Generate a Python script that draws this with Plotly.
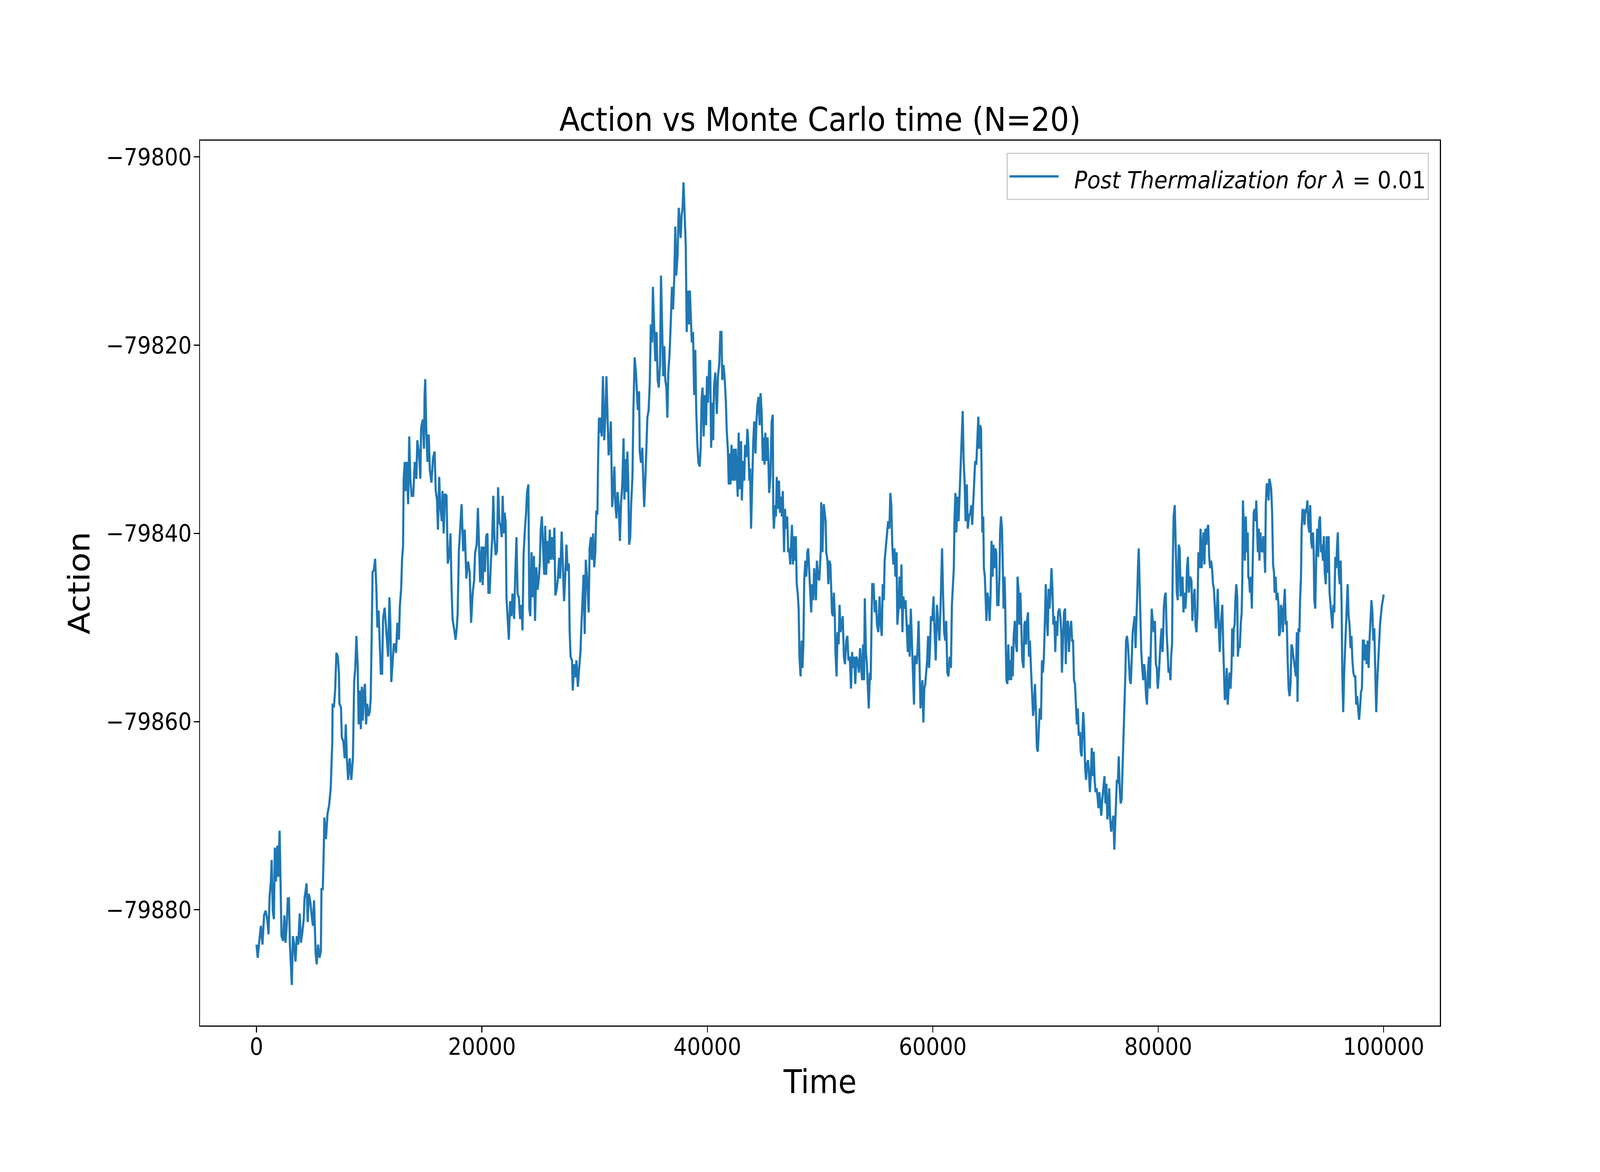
import plotly.graph_objects as go

# ---------------- data ----------------
time_a = [0,105,246,386,527,668,809,949,1062,1161,
1273,1343,1442,1541,1625,1724,1836,1935,2047,2146,
2216,2357,2470,2568,2667,2779,2878,2962,3033,3131,
3230,3342,3455,3568,3694,3835,3933,4046,4187,4257,
4440,4539,4637,4778,4891,5003,5102,5172,5243,5341,
5454,5594,5707,5763,5876,5960,6017,6157,6298,6439,
6580,6721,6749,6861,6974,7087,7213,7312,7354,7495,
7565,7706,7818,7917,8016,8128,8269,8410,8550,8663,
8762,8860,8973,9057,9170,9254,9339,9423,9536,9620,
9719,9817,9930,10043,10127,10211,10296,10408,10521,10634,
10718,10831,10943,11028,11140,11225,11366,11478,11591,11675,
11788,11872,11957,12069,12182,12281,12379,12492,12632,12717,
12830,12914,12998,13055,13153,13238,13336,13449,13547,13646,
13759,13899,14040,14181,14265,14364,14462,14533,14603,14744,
14856,14913,14969,15054,15166,15279,15377,15518,15659,15800,
15898,16011,16095,16208,16292,16433,16503,16602,16715,16855,
16968,17109,17207,17306,17390,17559,17658,17770,17841,17953,
18052,18192,18333,18474,18615,18770,18910,19037,19178,19305,
19389,19530,19642,19755,19839,19980,20065,20163,20262,20374,
20487,20571,20684,20797,20909,21008,21107,21219,21332,21430]
action_a = [-79883.7,-79885.1,-79883.3,-79881.7,-79883.7,-79880.6,-79880.1,-79881.0,-79882.6,-79878.6,
-79877.0,-79874.7,-79880.1,-79881.0,-79873.4,-79877.0,-79873.2,-79876.5,-79871.6,-79879.2,
-79882.8,-79883.3,-79880.6,-79883.5,-79881.9,-79878.8,-79878.8,-79883.7,-79885.5,-79888.0,
-79882.8,-79883.7,-79885.5,-79882.8,-79883.7,-79880.4,-79883.5,-79882.6,-79881.0,-79878.8,
-79877.2,-79881.3,-79878.3,-79879.2,-79880.6,-79881.7,-79879.0,-79881.9,-79884.6,-79885.8,
-79883.7,-79885.1,-79884.4,-79877.7,-79877.9,-79873.8,-79870.2,-79872.5,-79869.8,-79868.9,
-79867.1,-79862.1,-79858.1,-79858.5,-79856.7,-79852.7,-79853.1,-79854.9,-79858.1,-79858.5,
-79861.7,-79862.1,-79863.9,-79860.3,-79863.9,-79866.2,-79863.9,-79866.2,-79863.9,-79855.8,
-79854.2,-79850.9,-79854.0,-79860.3,-79856.7,-79860.8,-79856.3,-79859.9,-79856.7,-79856.0,
-79860.3,-79858.1,-79859.4,-79859.0,-79857.6,-79851.3,-79844.1,-79843.9,-79842.7,-79845.9,
-79850.0,-79848.2,-79851.3,-79854.9,-79854.9,-79849.1,-79847.9,-79850.0,-79852.2,-79853.1,
-79846.8,-79849.5,-79855.8,-79854.0,-79851.8,-79851.8,-79852.7,-79849.5,-79851.3,-79847.7,
-79845.9,-79842.7,-79841.4,-79834.2,-79832.4,-79835.5,-79832.4,-79836.9,-79829.7,-79834.2,
-79836.0,-79836.0,-79832.4,-79834.2,-79830.1,-79831.0,-79832.4,-79834.2,-79828.8,-79827.9,
-79831.0,-79825.2,-79823.6,-79828.8,-79832.4,-79829.5,-79833.3,-79834.6,-79832.0,-79831.3,
-79835.5,-79836.4,-79839.6,-79834.0,-79836.9,-79838.7,-79835.5,-79840.0,-79835.8,-79836.0,
-79843.2,-79842.3,-79840.0,-79845.9,-79849.1,-79850.4,-79851.3,-79850.0,-79848.6,-79841.9,
-79840.0,-79836.9,-79841.9,-79839.6,-79844.8,-79843.0,-79844.1,-79849.5,-79846.3,-79845.0,
-79842.1,-79841.2,-79837.3,-79841.0,-79845.2,-79841.4,-79845.5,-79841.4,-79844.1,-79840.3,
-79840.0,-79846.3,-79846.3,-79843.0,-79840.5,-79836.0,-79840.5,-79842.3,-79841.9,-79835.1]

time_b = [21542,21655,21753,21838,21936,22006,22105,22175,22288,22386,
22499,22612,22710,22851,22964,23062,23161,23273,23386,23498,
23597,23696,23808,23907,24005,24118,24202,24287,24399,24512,
24610,24709,24822,24934,25047,25131,25216,25314,25413,25525,
25610,25694,25807,25920,26018,26117,26229,26342,26426,26511,
26623,26736,26849,26933,27074,27186,27285,27383,27496,27609,
27707,27778,27862,27989,28059,28172,28270,28383,28510,28622,
28735,28847,28932,29016,29115,29213,29326,29396,29467,29551,
29664,29748,29861,29959,30058,30142,30241,30311,30382,30452,
30536,30621,30734,30846,30945,31043,31156,31240,31353,31437,
31550,31648,31747,31831,31930,32028,32141,32240,32338,32451,
32563,32634,32732,32817,32901,32986,33056,33155,33239,33352,
33436,33549,33661,33760,33830,33943,33999,34112,34225,34323,
34393,34506,34604,34675,34787,34886,34984,35097,35167,35266,
35379,35491,35590,35688,35801,35885,35970,36082,36181,36265,
36364,36448,36533,36645,36758,36857,36955,37068,37152,37237,
37349,37462,37546,37631,37715,37800,37884,37983,38081,38166,
38264,38363,38447,38546,38616,38729,38827,38926,39010,39109,
39207,39320,39405,39489,39573,39672,39770,39883,39967,40052,
40164,40249,40333,40418,40516,40586,40699,40840,40938,41051,
41150,41248,41318,41431,41544,41642,41712,41825,41895]
action_b = [-79838.8,-79839.2,-79840.4,-79836.0,-79840.0,-79837.8,-79838.8,-79846.8,-79848.8,-79851.3,
-79847.2,-79848.8,-79846.4,-79849.1,-79844.0,-79840.4,-79846.4,-79846.8,-79849.1,-79847.6,
-79850.3,-79842.2,-79839.6,-79838.0,-79835.6,-79834.8,-79848.0,-79848.8,-79842.0,-79846.8,
-79842.4,-79849.3,-79843.6,-79846.0,-79844.8,-79843.2,-79839.6,-79838.2,-79841.2,-79844.4,
-79839.2,-79844.4,-79840.8,-79843.2,-79839.6,-79842.8,-79840.4,-79842.8,-79839.4,-79846.6,
-79846.0,-79844.8,-79842.6,-79844.8,-79839.8,-79844.0,-79847.2,-79844.8,-79841.2,-79844.0,
-79843.2,-79850.3,-79853.1,-79853.5,-79856.7,-79853.9,-79855.3,-79853.5,-79856.3,-79854.3,
-79852.7,-79849.1,-79846.8,-79844.4,-79850.7,-79842.8,-79844.8,-79846.8,-79848.4,-79841.6,
-79840.4,-79842.8,-79840.0,-79843.6,-79842.0,-79837.6,-79838.0,-79831.7,-79827.7,-79829.3,
-79827.7,-79829.7,-79823.3,-79830.1,-79827.7,-79823.3,-79827.7,-79831.7,-79830.1,-79828.1,
-79837.2,-79835.6,-79832.9,-79836.8,-79838.4,-79835.6,-79837.2,-79840.8,-79836.8,-79834.8,
-79829.9,-79836.4,-79832.1,-79835.6,-79831.3,-79834.8,-79841.2,-79840.4,-79836.8,-79834.0,
-79826.9,-79821.3,-79822.9,-79825.3,-79826.9,-79824.9,-79831.3,-79832.5,-79830.9,-79834.8,
-79837.2,-79834.0,-79829.7,-79827.7,-79826.9,-79824.1,-79817.8,-79819.7,-79813.8,-79817.4,
-79821.7,-79818.6,-79823.7,-79824.5,-79822.1,-79812.6,-79817.0,-79823.3,-79820.1,-79823.7,
-79824.5,-79827.7,-79822.9,-79820.9,-79817.4,-79813.8,-79816.2,-79812.6,-79807.4,-79812.6,
-79810.6,-79805.4,-79807.0,-79808.6,-79806.2,-79805.4,-79802.7,-79807.0,-79809.4,-79818.6,
-79814.2,-79817.8,-79814.2,-79817.4,-79819.7,-79818.6,-79825.3,-79820.5,-79826.9,-79830.5,
-79832.5,-79832.9,-79830.9,-79825.7,-79824.5,-79829.7,-79825.3,-79828.5,-79823.3,-79826.1,
-79821.7,-79821.7,-79830.9,-79826.1,-79830.1,-79824.5,-79822.9,-79827.3,-79823.3,-79822.1,
-79818.6,-79818.6,-79823.7,-79822.1,-79823.7,-79826.1,-79828.9,-79831.3,-79834.8]

time_c = [41933,42045,42144,42242,42355,42425,42524,42608,42693,42777,
42890,42988,43059,43171,43270,43340,43453,43551,43622,43720,
43791,43875,43974,44072,44157,44269,44354,44438,44537,44635,
44720,44818,44917,45001,45071,45142,45240,45339,45423,45480,
45592,45705,45803,45846,45902,46015,46085,46155,46268,46352,
46437,46521,46606,46690,46803,46887,46972,47084,47169,47253,
47352,47422,47507,47591,47676,47760,47845,47929,48013,48098,
48168,48267,48365,48436,48520,48590,48689,48773,48872,48943,
49027,49111,49210,49294,49393,49477,49562,49632,49717,49815,
49928,50012,50068,50097,50209,50322,50406,50491,50547,50660,
50730,50829,50913,50969,51054,51138,51223,51307,51363,51462,
51546,51645,51729,51814,51926,52011,52110,52208,52321,52419,
52518,52630,52743,52841,52912,53025,53123,53222,53334,53447,
53545,53644,53728,53813,53897,53968,54066,54150,54249,54319,
54418,54488,54573,54629,54742,54854,54953,55051,55164,55277,
55375,55474,55558,55657,55727,55840,55938,56037,56149,56234,
56318,56403,56501,56600,56684,56783,56853,56966,57050,57135,
57219,57304,57388,57487,57585,57698,57782,57867,57951,58050,
58148,58233,58331,58401,58486,58570,58655,58739,58824,58908,
58993,59077,59162,59246,59330,59415,59499,59584,59668,59753,
59837,59950,60063,60161,60260,60372,60485,60583,60682,60766,
60823,60907,61006,61104,61189,61287,61386,61498,61611,61695,
61780,61864,61921,62005,62089,62202,62287,62371,62455,62554,
62653,62737,62821,62906,63019,63103,63216,63328,63413,63497,
63581,63680]
action_c = [-79831.5,-79834.8,-79830.6,-79834.4,-79831.0,-79834.4,-79831.0,-79834.4,-79836.1,-79829.3,
-79835.3,-79830.2,-79836.5,-79832.3,-79834.4,-79830.6,-79831.9,-79828.9,-79830.2,-79834.4,
-79833.1,-79839.5,-79834.4,-79830.2,-79828.1,-79831.5,-79828.1,-79826.4,-79825.5,-79828.5,
-79825.1,-79827.2,-79832.3,-79829.8,-79832.7,-79829.3,-79832.3,-79829.8,-79832.7,-79835.7,
-79834.0,-79828.1,-79827.4,-79837.8,-79839.5,-79837.0,-79838.2,-79834.0,-79837.4,-79834.4,
-79837.8,-79836.1,-79838.2,-79835.5,-79842.0,-79837.4,-79839.5,-79838.2,-79842.0,-79841.6,
-79843.3,-79841.2,-79839.1,-79843.3,-79840.3,-79842.9,-79840.3,-79845.4,-79846.3,-79848.0,
-79853.1,-79855.2,-79851.4,-79854.3,-79851.8,-79845.0,-79842.9,-79844.6,-79842.0,-79841.6,
-79843.7,-79846.7,-79848.4,-79845.4,-79847.1,-79843.7,-79845.9,-79847.1,-79842.9,-79844.6,
-79845.0,-79843.3,-79841.6,-79836.7,-79842.0,-79836.9,-79837.8,-79838.7,-79842.0,-79842.9,
-79845.4,-79842.9,-79843.3,-79845.9,-79848.4,-79848.8,-79846.3,-79848.8,-79852.6,-79855.2,
-79850.5,-79851.8,-79847.6,-79850.5,-79849.7,-79848.8,-79853.1,-79853.9,-79851.4,-79850.9,
-79853.5,-79853.1,-79856.5,-79852.6,-79854.3,-79853.1,-79856.0,-79853.1,-79853.5,-79854.8,
-79852.2,-79854.3,-79855.6,-79851.8,-79855.6,-79846.9,-79852.6,-79853.9,-79856.5,-79858.6,
-79854.8,-79855.6,-79848.8,-79845.4,-79845.4,-79848.4,-79847.1,-79849.7,-79850.5,-79846.7,
-79849.7,-79850.9,-79845.4,-79847.1,-79842.9,-79841.2,-79839.9,-79838.7,-79839.5,-79835.7,
-79837.0,-79841.2,-79843.3,-79841.6,-79844.6,-79842.0,-79849.7,-79848.0,-79844.6,-79848.0,
-79843.3,-79850.5,-79846.7,-79848.0,-79847.1,-79850.5,-79852.6,-79849.7,-79853.1,-79848.0,
-79851.4,-79854.3,-79858.2,-79853.1,-79853.1,-79853.9,-79852.2,-79849.3,-79854.8,-79858.6,
-79857.3,-79855.6,-79860.1,-79856.5,-79856.0,-79854.8,-79853.5,-79850.9,-79854.3,-79852.2,
-79848.8,-79849.3,-79846.7,-79850.5,-79853.5,-79847.6,-79849.7,-79851.4,-79848.0,-79844.2,
-79841.6,-79846.3,-79850.5,-79851.4,-79849.3,-79854.8,-79855.2,-79853.1,-79854.3,-79847.6,
-79845.4,-79843.7,-79838.7,-79835.7,-79839.9,-79836.1,-79838.7,-79836.1,-79832.7,-79830.2,
-79827.0,-79832.3,-79834.4,-79838.7,-79834.8,-79839.5,-79838.2,-79837.8,-79837.0,-79839.1,
-79836.5,-79834.4]

time_d = [63689,63759,63857,63942,64040,64111,64195,64280,64336,64392,
64477,64533,64618,64674,64758,64843,64955,65040,65124,65209,
65307,65378,65462,65547,65631,65715,65828,65913,65969,66053,
66138,66222,66279,66363,66419,66476,66532,66616,66701,66785,
66870,66954,67010,67095,67179,67278,67376,67461,67517,67602,
67686,67771,67855,67939,68052,68122,68193,68277,68362,68446,
68531,68615,68728,68826,68897,68981,69066,69150,69234,69319,
69403,69488,69600,69685,69769,69854,69938,70023,70107,70192,
70276,70361,70445,70529,70614,70698,70783,70867,70952,71036,
71121,71233,71318,71402,71458,71543,71641,71740,71796,71881,
71993,72078,72162,72275,72359,72444,72528,72613,72697,72782,
72866,72951,73063,73119,73204,73260,73345,73429,73514,73598,
73683,73767,73851,73936,74020,74105,74189,74274,74358,74443,
74527,74611,74696,74780,74865,74949,75034,75118,75231,75315,
75400,75484,75569,75653,75738,75822,75906,76019,76104,76188,
76272,76329,76413,76498,76582,76667,76751,76836,76892,76948,
77004,77061,77089,77145,77230,77314,77399,77483,77567,77652,
77736,77821,77905,77990,78074,78159,78215,78271,78356,78412,
78496,78581,78665,78750,78834,78919,79003,79088,79172,79257,
79341,79425,79510,79594,79707,79791,79876,79960,80045,80129,
80214,80298,80383,80439,80495,80580,80664,80749,80833,80917,
81002,81086,81143,81227,81284,81368,81467,81565,81650,81734,
81819,81903,81988,82072,82156,82241,82325,82410,82494,82551,
82635,82720,82832,82945,83029,83113,83226,83311,83395,83480,
83564,83677,83761,83846,83930,84014,84099,84183,84268,84352,
84437,84521,84606,84690,84775,84859,84943,85028,85112,85197,
85281,85366,85436]
action_d = [-79834.4,-79832.3,-79832.7,-79830.2,-79827.6,-79831.0,-79828.5,-79828.9,-79834.4,-79839.9,
-79838.2,-79843.7,-79844.6,-79847.1,-79849.3,-79846.3,-79847.1,-79849.3,-79846.7,-79840.8,
-79844.6,-79841.2,-79843.7,-79841.6,-79842.0,-79847.6,-79847.6,-79844.6,-79839.9,-79838.2,
-79839.5,-79844.2,-79848.0,-79844.6,-79847.1,-79851.8,-79855.6,-79856.0,-79851.8,-79855.6,
-79853.5,-79855.6,-79852.0,-79855.2,-79850.9,-79849.3,-79851.8,-79852.6,-79844.6,-79845.9,
-79849.7,-79846.3,-79850.5,-79853.5,-79854.3,-79849.7,-79849.3,-79851.8,-79849.3,-79848.4,
-79853.1,-79851.4,-79854.8,-79856.9,-79859.4,-79858.2,-79856.0,-79859.0,-79862.8,-79863.2,
-79860.7,-79858.6,-79859.8,-79853.5,-79854.8,-79853.1,-79849.7,-79845.4,-79848.8,-79850.9,
-79845.9,-79848.0,-79846.3,-79843.7,-79845.9,-79849.7,-79848.8,-79852.6,-79849.3,-79850.9,
-79848.4,-79848.0,-79848.8,-79850.5,-79854.8,-79851.8,-79848.4,-79848.0,-79853.9,-79849.7,
-79849.3,-79852.6,-79850.5,-79849.3,-79851.4,-79851.4,-79855.6,-79856.0,-79858.6,-79860.3,
-79858.6,-79861.5,-79861.1,-79863.2,-79863.7,-79861.1,-79859.0,-79860.7,-79864.9,-79866.2,
-79864.5,-79864.1,-79865.4,-79867.5,-79865.8,-79862.8,-79865.8,-79863.2,-79866.2,-79867.5,
-79867.1,-79867.9,-79869.2,-79867.5,-79868.7,-79870.0,-79868.3,-79867.1,-79865.8,-79868.7,
-79866.6,-79870.4,-79869.6,-79867.1,-79870.4,-79871.7,-79870.9,-79870.0,-79873.6,-79870.9,
-79869.2,-79866.2,-79866.6,-79863.7,-79867.1,-79868.7,-79868.3,-79864.9,-79863.2,-79860.3,
-79859.0,-79857.3,-79854.8,-79851.4,-79850.9,-79851.8,-79854.3,-79855.6,-79856.0,-79853.1,
-79850.5,-79849.7,-79848.8,-79852.2,-79848.0,-79845.9,-79843.3,-79841.6,-79846.3,-79850.5,
-79852.6,-79854.3,-79855.6,-79853.9,-79854.8,-79857.3,-79858.2,-79854.8,-79853.1,-79856.5,
-79852.6,-79848.0,-79849.3,-79850.5,-79849.3,-79853.9,-79854.3,-79856.5,-79855.2,-79853.1,
-79851.4,-79850.1,-79852.6,-79850.9,-79848.0,-79846.7,-79846.3,-79850.5,-79853.1,-79854.8,
-79854.3,-79855.6,-79853.1,-79851.8,-79843.7,-79838.2,-79837.0,-79843.3,-79846.3,-79847.1,
-79841.2,-79841.6,-79846.7,-79845.9,-79844.6,-79848.4,-79846.3,-79848.0,-79846.3,-79843.7,
-79842.5,-79846.3,-79844.6,-79845.0,-79849.3,-79847.1,-79845.9,-79849.7,-79850.5,-79848.4,
-79842.0,-79843.7,-79839.5,-79843.7,-79842.0,-79839.9,-79843.3,-79839.5,-79841.2,-79839.5,
-79839.1,-79842.5,-79843.7,-79842.9,-79843.7,-79845.4,-79845.9,-79848.0,-79850.1,-79848.4,
-79845.9,-79849.7,-79852.2]

time_e = [85461,85546,85630,85686,85771,85855,85911,85996,86080,86165,
86249,86334,86418,86503,86559,86643,86700,86784,86841,86925,
87009,87066,87150,87235,87319,87404,87460,87516,87601,87685,
87770,87854,87939,87995,88079,88136,88220,88305,88361,88417,
88473,88558,88642,88699,88783,88839,88924,88980,89065,89149,
89233,89318,89402,89487,89543,89628,89712,89797,89853,89937,
90022,90106,90191,90275,90331,90416,90500,90585,90669,90725,
90810,90894,90979,91063,91148,91232,91317,91401,91486,91570,
91654,91739,91823,91908,91992,92077,92161,92218,92302,92358,
92443,92527,92584,92668,92724,92809,92893,92978,93062,93147,
93231,93315,93400,93484,93569,93653,93738,93794,93850,93935,
94019,94104,94188,94273,94357,94442,94526,94610,94695,94779,
94864,94948,95033,95117,95202,95286,95371,95455,95539,95624,
95708,95793,95877,95934,96018,96102,96187,96271,96328,96412,
96497,96581,96665,96750,96806,96891,96975,97060,97144,97229,
97313,97397,97482,97566,97651,97735,97820,97904,97989,98073,
98157,98242,98326,98411,98495,98580,98664,98748,98833,98917,
99002,99086,99171,99255,99340,99424,99509,99593,99678,99762,
99847,99931,99999]
action_e = [-79852.6,-79849.7,-79848.0,-79847.6,-79852.2,-79854.8,-79857.7,-79857.3,-79854.3,-79858.2,
-79856.0,-79854.8,-79856.5,-79854.3,-79850.1,-79853.1,-79850.1,-79849.7,-79847.1,-79845.4,
-79846.7,-79853.1,-79851.8,-79852.2,-79849.7,-79848.4,-79845.0,-79836.5,-79839.5,-79842.9,
-79838.2,-79842.0,-79839.9,-79844.6,-79845.0,-79846.3,-79844.6,-79848.0,-79844.6,-79840.3,
-79837.8,-79837.4,-79838.7,-79836.5,-79839.9,-79842.0,-79839.5,-79842.9,-79839.9,-79841.6,
-79842.0,-79840.3,-79841.6,-79844.2,-79836.9,-79834.8,-79834.8,-79836.5,-79834.2,-79834.6,
-79835.3,-79837.8,-79843.3,-79844.2,-79846.3,-79844.6,-79847.1,-79846.3,-79847.6,-79850.9,
-79850.5,-79847.6,-79848.4,-79850.5,-79847.6,-79845.9,-79849.7,-79849.3,-79853.5,-79856.5,
-79857.3,-79856.0,-79851.8,-79852.2,-79853.1,-79853.9,-79854.8,-79855.2,-79850.5,-79857.9,
-79850.1,-79850.5,-79847.1,-79844.6,-79839.5,-79837.4,-79837.8,-79839.1,-79837.4,-79837.8,
-79836.5,-79839.1,-79839.9,-79837.0,-79840.8,-79841.6,-79839.9,-79842.0,-79847.1,-79848.0,
-79842.5,-79839.5,-79842.5,-79838.7,-79838.2,-79842.0,-79841.2,-79842.9,-79840.3,-79844.2,
-79845.4,-79840.3,-79844.2,-79840.3,-79846.3,-79847.6,-79848.8,-79850.1,-79847.6,-79848.4,
-79842.5,-79843.7,-79841.2,-79839.9,-79844.2,-79845.4,-79842.9,-79847.6,-79854.8,-79859.0,
-79854.8,-79852.2,-79849.3,-79845.9,-79845.4,-79848.8,-79849.7,-79852.2,-79850.9,-79853.5,
-79854.8,-79855.2,-79855.2,-79858.2,-79857.3,-79858.6,-79859.8,-79858.6,-79856.9,-79856.5,
-79851.4,-79851.4,-79853.5,-79851.8,-79853.9,-79851.4,-79854.3,-79851.4,-79849.7,-79847.1,
-79848.4,-79851.4,-79850.1,-79855.6,-79859.0,-79856.0,-79853.1,-79851.8,-79849.7,-79848.4,
-79847.6,-79847.1,-79846.5]

x_tick_values = [0, 20000, 40000, 60000, 80000, 100000]
x_tick_labels = ["0", "20000", "40000", "60000", "80000", "100000"]
y_tick_values = [-79800, -79820, -79840, -79860, -79880]
y_tick_labels = ["\u221279800", "\u221279820", "\u221279840", "\u221279860", "\u221279880"]

title_text = "Action vs Monte Carlo time (N=20)"
x_label = "Time"
y_label = "Action"
legend_label = "<i>Post Thermalization for \u03bb</i> = 0.01"

# ---------------- assemble ----------------
for t_seg, a_seg in [(time_a, action_a), (time_b, action_b), (time_c, action_c),
                     (time_d, action_d), (time_e, action_e)]:
    assert len(t_seg) == len(a_seg), (len(t_seg), len(a_seg))

mc_time = time_a + time_b + time_c + time_d + time_e
action = action_a + action_b + action_c + action_d + action_e

FONT = "DejaVu Sans"
W, H = 4500, 3000
L, R, T, B = 562.5, 450, 360, 375
TICK_FS = 60
LEG_TEXT_FS = 61

fig = go.Figure()
fig.add_trace(go.Scatter(
    x=mc_time, y=action, mode="lines",
    name=("<span style='font-size:%dpx'>&nbsp;&nbsp;%s</span>" % (LEG_TEXT_FS, legend_label)),
    line=dict(color="#1f77b4", width=6),
    showlegend=True,
))

axis_common = dict(
    showline=True, linecolor="black", linewidth=3.3, mirror=True,
    ticks="outside", ticklen=14.6, tickwidth=3.3, tickcolor="black",
    showgrid=False, zeroline=False,
    tickfont=dict(family=FONT, size=TICK_FS, color="black"),
)

fig.update_layout(
    width=W, height=H,
    paper_bgcolor="white", plot_bgcolor="white",
    margin=dict(l=L, r=R, t=T, b=B, pad=0, autoexpand=False),
    font=dict(family=FONT, color="black"),
    title=dict(
        text=title_text, x=0.5, xanchor="center",
        xref="paper", yref="paper", y=1, yanchor="bottom",
        pad=dict(b=25),
        font=dict(family=FONT, size=84, color="black"),
    ),
    xaxis=dict(
        range=[-5000, 105000],
        tickmode="array", tickvals=x_tick_values, ticktext=x_tick_labels,
        ticklabelstandoff=-15,
        title=dict(text=x_label, font=dict(family=FONT, size=84, color="black"), standoff=27),
        **axis_common,
    ),
    yaxis=dict(
        range=[-79892.3, -79798.26],
        tickmode="array", tickvals=y_tick_values, ticktext=y_tick_labels,
        ticklabelstandoff=-6,
        title=dict(text=y_label, font=dict(family=FONT, size=84, color="black"), standoff=19),
        **axis_common,
    ),
    showlegend=True,
    legend=dict(
        x=0.99111, xanchor="right", y=0.98631, yanchor="top",
        bgcolor="rgba(255,255,255,0.8)", bordercolor="#cccccc", borderwidth=3.3,
        font=dict(family=FONT, size=78, color="black"),
        itemwidth=138,
    ),
)

# Fit the fixed-size 4500x3000 figure onto the browser viewport (the page may
# expose a different number of CSS pixels than the window's device pixels).
fit_js = """
(function(){
  var gd = document.getElementById('{plot_id}');
  var vw = window.innerWidth, vh = window.innerHeight;
  var sx = vw / %d, sy = vh / %d;
  if (!(sx > 0)) { sx = 1; }
  if (!(sy > 0)) { sy = sx; }
  document.documentElement.style.margin = '0';
  document.documentElement.style.overflow = 'hidden';
  document.body.style.margin = '0';
  document.body.style.overflow = 'hidden';
  var wrap = gd.parentElement;
  wrap.style.width = (%d * sx) + 'px';
  wrap.style.height = (%d * sy) + 'px';
  wrap.style.overflow = 'hidden';
  gd.style.transformOrigin = '0 0';
  gd.style.transform = 'scale(' + sx + ',' + sy + ')';
})();
""" % (W, H, W, H)

fig.write_html("out.html", post_script=fit_js, config={"displayModeBar": False})
